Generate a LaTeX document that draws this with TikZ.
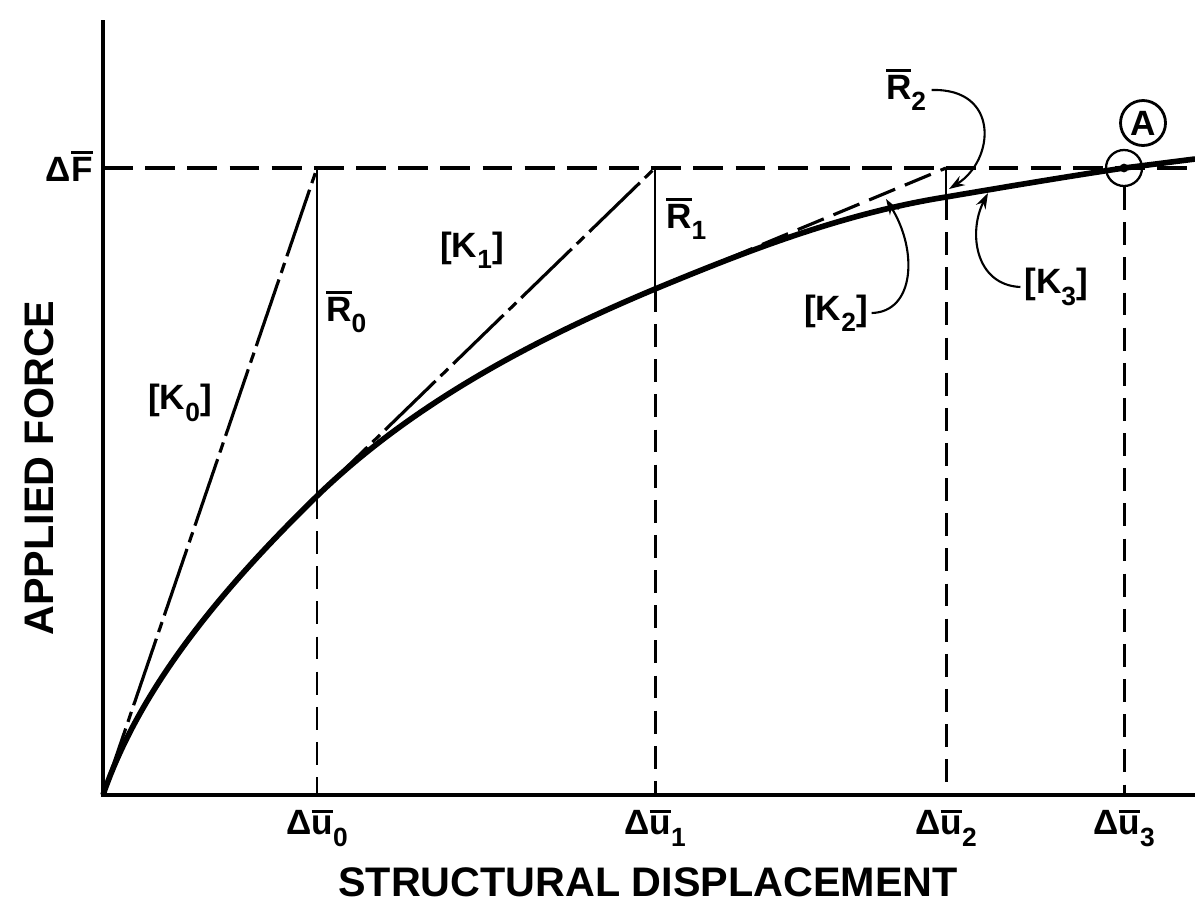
\documentclass[tikz,border=0pt]{standalone}
\usepackage{fontspec}
\setmainfont{Liberation Sans}
\usetikzlibrary{arrows.meta}
\newcommand\ov[1]{\leavevmode\vbox{\hrule height 1.7pt\kern 2pt\hbox{#1}}}
\newcommand\lowr[1]{\raisebox{-.32em}{\fontsize{15}{17}\selectfont #1}}

\begin{document}
\begin{tikzpicture}[x=0.02cm,y=-0.02cm,
      lbl/.style={font=\bfseries\fontsize{20}{24}\selectfont,inner sep=0pt},
      ttl/.style={font=\bfseries\fontsize{23.5}{28}\selectfont,inner sep=0pt},
      axis/.style={line width=2pt},
      curve/.style={line width=3.2pt},
      level/.style={line width=2pt,dash pattern=on 17pt off 7pt},
      resid/.style={line width=1.6pt},
      drop/.style={line width=1.7pt,dash pattern=on 13pt off 7pt},
      tang/.style={line width=1.8pt,dash pattern=on 40pt off 4pt on 6pt off 4pt},
      tangd/.style={line width=1.8pt,dash pattern=on 16pt off 6pt},
      callout/.style={line width=1.2pt,-{Stealth[length=9pt,width=6pt]}}]
  \useasboundingbox (0,0) rectangle (1195,914);
  % axes and load level
  \coordinate (O) at (103,795);
  \coordinate (ytop) at (103,20);
  \coordinate (xend) at (1195,795);
  \coordinate (F0) at (103,168);
  \coordinate (Fend) at (1195,168);
  \foreach \i/\x in {0/317,1/655,2/946,3/1124} {
    \coordinate (T\i) at (\x,168);
    \coordinate (B\i) at (\x,795);
  }
  \coordinate (C0) at (317,496);
  \coordinate (C1) at (655,289);
  \coordinate (C2) at (946,197);
  \coordinate (C3) at (1124,168);
  \coordinate (Cend) at (1195,159);
  \draw[tang] (O) -- (T0);
  \draw[tang] (C0) -- (T1);
  \draw[tangd] (C1) -- (T2);
  \draw[level] (F0) -- (Fend);
  \draw[axis] (ytop) -- (O) -- (xend);
  \draw[curve] (O) .. controls (142,681) and (231,580) .. (C0)
    .. controls (412,404) and (533,340) .. (C1)
    .. controls (749,250) and (845,213) .. (C2)
    .. controls (1005,187) and (1064,177) .. (C3)
    .. controls (1148,165) and (1171,162) .. (Cend);
  \foreach \i in {0,1,2} {
    \draw[resid] (T\i) -- (C\i);
    \draw[drop] (C\i) -- (B\i);
  }
  \node[draw,circle,line width=1.3pt,minimum size=0.72cm,inner sep=0pt] (Acirc) at (C3) {};
  \fill (C3) circle (2.5pt);
  \draw[drop] (Acirc.south) -- (B3);
  % labels
  \node[lbl,anchor=east] (dF) at (93,166) {Δ\ov{F}};
  \node[lbl] (k0) at (180,403) {[K\lowr{0}]};
  \node[lbl,anchor=west] (r0) at (326,312) {\ov{R}\lowr{0}};
  \node[lbl] (k1) at (472,250) {[K\lowr{1}]};
  \node[lbl,anchor=west] (r1) at (666,219) {\ov{R}\lowr{1}};
  \node[lbl] (r2) at (906,90) {\ov{R}\lowr{2}};
  \node[lbl] (k2) at (836,313) {[K\lowr{2}]};
  \node[lbl] (k3) at (1056,287) {[K\lowr{3}]};
  \node[lbl,draw,circle,line width=1.6pt,minimum size=0.9cm,inner sep=0pt] (A) at (1143,123) {A};
  \foreach \i/\x in {0/317,1/655,2/946,3/1124}
    \node[lbl] (u\i) at (\x,828) {Δ\ov{u}\lowr{\i}};
  \node[ttl] (xlab) at (648,882) {STRUCTURAL DISPLACEMENT};
  \node[ttl,rotate=90] (ylab) at (39,468) {APPLIED FORCE};
  % callouts
  \coordinate (r2tip) at (949,189);
  \coordinate (k2tip) at (886,199);
  \coordinate (k3tip) at (988,193);
  \draw[callout] ([xshift=3pt]r2.east) .. controls (1000,88) and (995,160) .. (r2tip);
  \draw[callout] ([xshift=2pt]k2.east) .. controls (915,312) and (918,250) .. (k2tip);
  \draw[callout] ([xshift=-2pt]k3.west) .. controls (975,285) and (968,232) .. (k3tip);
\end{tikzpicture}
\end{document}
